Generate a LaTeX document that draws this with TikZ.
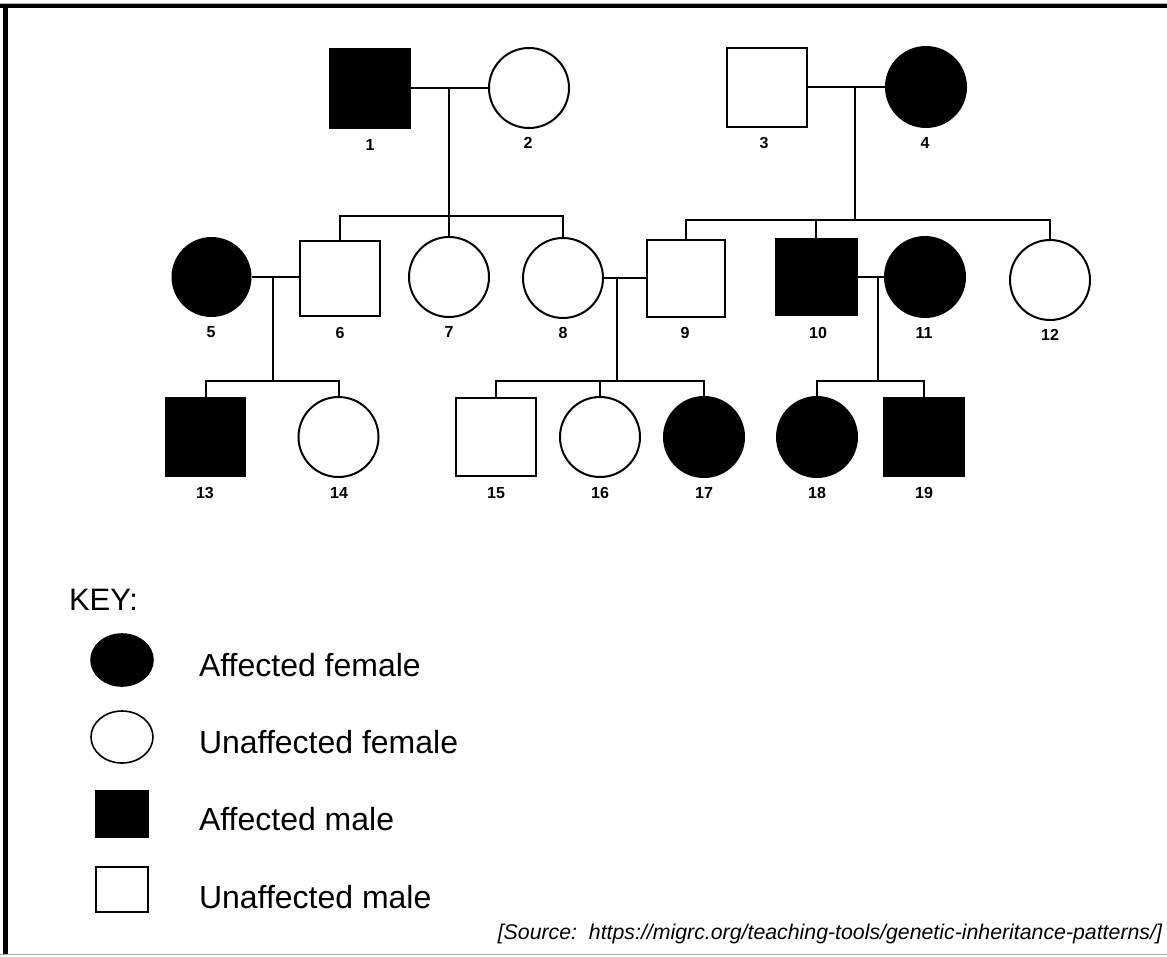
\documentclass[tikz,border=0pt]{standalone}
\usepackage{fontspec}
\setmainfont{Liberation Sans}[Ligatures=NoCommon]
\usetikzlibrary{shapes.geometric}
\begin{document}
\begin{tikzpicture}[x=1pt,y=-1pt, line width=2pt,
  fem/.style={circle, draw, minimum size=80pt, inner sep=0pt},
  mal/.style={rectangle, draw, minimum width=80pt, minimum height=78pt, inner sep=0pt},
  aff/.style={fill=black},
  unaff/.style={fill=white},
  num/.style={font=\fontsize{16}{19}\selectfont\bfseries, inner sep=0pt},
  keytxt/.style={font=\fontsize{32}{38}\selectfont, inner sep=0pt, anchor=base west},
  keysym/.style={draw, line width=1.6pt, inner sep=0pt}
]
\useasboundingbox (0,0) rectangle (1167,956);
% frame
\draw[gray!60, line width=1pt] (0,3.3) -- (1167,3.3);
\draw[black, line width=4pt] (0,6.3) -- (1167,6.3);
\draw[black, line width=5pt] (5.8,4) -- (5.8,953.5);
\draw[gray!70, line width=1.5pt] (0,954.5) -- (1167,954.5);

% generation 1
\node[mal,aff,minimum height=79pt] (n1) at (370,88) {};
\node[fem,unaff] (n2) at (529,88) {};
\node[mal,unaff,minimum height=79pt] (n3) at (767,87) {};
\node[fem,aff] (n4) at (926,87) {};

% generation 2
\node[fem,aff,minimum size=78pt] (n5) at (211.5,277) {};
\node[mal,unaff,minimum height=75pt] (n6) at (340,278) {};
\node[fem,unaff] (n7) at (449,277) {};
\node[fem,unaff] (n8) at (563,278) {};
\node[mal,unaff,minimum width=78pt,minimum height=77pt] (n9) at (686,278) {};
\node[mal,aff,minimum width=81pt,minimum height=76pt] (n10) at (816,277) {};
\node[fem,aff] (n11) at (925,277) {};
\node[fem,unaff] (n12) at (1050,280) {};

% generation 3
\node[mal,aff,minimum width=79pt] (n13) at (205.5,437) {};
\node[fem,unaff] (n14) at (338.5,437) {};
\node[mal,unaff] (n15) at (496,437) {};
\node[fem,unaff] (n16) at (600,437) {};
\node[fem,aff] (n17) at (704,437) {};
\node[fem,aff] (n18) at (817,437) {};
\node[mal,aff] (n19) at (924,437) {};

% labels
\node[num] (l1) at (370,145) {1};
\node[num] (l2) at (528,143) {2};
\node[num] (l3) at (764,143) {3};
\node[num] (l4) at (925,143) {4};
\node[num] (l5) at (211,332) {5};
\node[num] (l6) at (340,333) {6};
\node[num] (l7) at (449,332) {7};
\node[num] (l8) at (563,333) {8};
\node[num] (l9) at (685,333) {9};
\node[num] (l10) at (818,333) {10};
\node[num] (l11) at (924,333) {11};
\node[num] (l12) at (1050,335) {12};
\node[num] (l13) at (205,493) {13};
\node[num] (l14) at (339,493) {14};
\node[num] (l15) at (496,493) {15};
\node[num] (l16) at (600,493) {16};
\node[num] (l17) at (704,493) {17};
\node[num] (l18) at (817,493) {18};
\node[num] (l19) at (924,493) {19};

% marriages and descents
\draw (n1) -- (n2);
\coordinate (m12) at (449,88);
\coordinate (s12) at (449,216);
\draw (m12) -- (s12);
\draw (n6.north) |- (s12) -| (n8.north);
\draw (n7.north) -- (n7.north |- s12);

\draw (n3) -- (n4);
\coordinate (m34) at (855,87);
\coordinate (s34) at (855,220);
\draw (m34) -- (s34);
\draw (n9.north) |- (s34) -| (n12.north);
\draw (n10.north) -- (n10.north |- s34);

\draw (n5) -- (n6.west |- n5);
\coordinate (m56) at (273,277);
\coordinate (s56) at (273,381);
\draw (m56) -- (s56);
\draw (n13.north) |- (s56) -| (n14.north);

\draw (n8) -- (n9);
\coordinate (m89) at (617,278);
\coordinate (s89) at (617,381);
\draw (m89) -- (s89);
\draw (n15.north) |- (s89) -| (n17.north);
\draw (n16.north) -- (n16.north |- s89);

\draw (n10) -- (n11);
\coordinate (m1011) at (878,277);
\coordinate (s1011) at (878,381);
\draw (m1011) -- (s1011);
\draw (n18.north) |- (s1011) -| (n19.north);

% key
\node[font=\fontsize{31}{37}\selectfont, inner sep=0pt, anchor=base west] (key) at (68,610) {KEY:};
\node[keysym, ellipse, fill=black, minimum width=62pt, minimum height=52pt] (k1) at (122,660) {};
\node[keysym, ellipse, fill=white, minimum width=62pt, minimum height=52pt] (k2) at (122,737) {};
\node[keysym, rectangle, fill=black, minimum width=52pt, minimum height=46pt] (k3) at (122,814) {};
\node[keysym, rectangle, fill=white, minimum width=52pt, minimum height=45pt] (k4) at (122,889.5) {};
\node[keytxt] (t1) at (198,676.5) {Affected female};
\node[keytxt] (t2) at (198,753) {Unaffected female};
\node[keytxt] (t3) at (198,830) {Affected male};
\node[keytxt] (t4) at (198,908) {Unaffected male};

% source
\node[font=\fontsize{21.3}{25}\selectfont\itshape, inner sep=0pt, anchor=base east] (src) at (1163,939)
  {[Source:\ \ https://migrc.org/teaching-tools/genetic-inheritance-patterns/]};
\end{tikzpicture}
\end{document}
